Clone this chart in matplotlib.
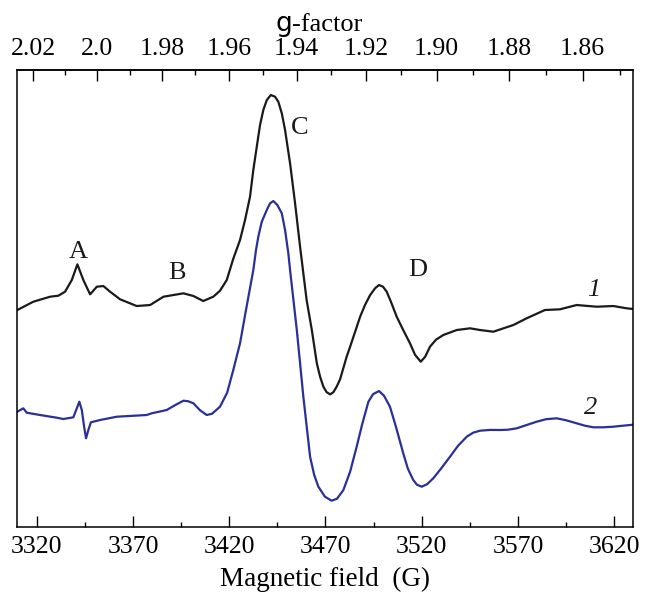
import numpy as np
import matplotlib
matplotlib.use("Agg")
import matplotlib.pyplot as plt
from matplotlib.ticker import FixedLocator

plt.rcParams["font.family"] = ["Liberation Serif", "DejaVu Serif"]

# --- EPR spectra (field in G, intensity in arb. units)
field_1 = [3309.9, 3318.2, 3326.9, 3331.2, 3334.7, 3338.2, 3341.1, 3344.2, 3347.7, 3351.2,
           3354.6, 3358.1, 3363.3, 3371.9, 3378.9, 3385.8, 3396.2, 3401.4, 3406.5, 3411.7,
           3415.2, 3418.7, 3422.1, 3425.6, 3428.2, 3430.8, 3432.5, 3434.3, 3436.0, 3437.7,
           3439.5, 3441.6, 3443.8, 3445.5, 3447.3, 3449.0, 3451.6, 3454.2, 3456.8, 3460.2,
           3462.9, 3465.5, 3467.2, 3468.9, 3470.6, 3472.4, 3474.1, 3475.8, 3477.6, 3481.0,
           3482.8, 3485.4, 3488.0, 3490.6, 3493.2, 3495.8, 3497.8, 3499.9, 3501.8, 3504.0,
           3507.0, 3510.3, 3513.9, 3516.5, 3519.5, 3521.8, 3524.3, 3527.4, 3531.2, 3538.2,
           3545.1, 3550.3, 3557.2, 3567.6, 3574.5, 3584.0, 3591.8, 3600.5, 3610.9, 3619.5,
           3626.5, 3629.9]
signal_1 = [216.7, 225, 230, 231, 235, 246.7, 262.4, 246.7, 232.4, 240,
            240.7, 235, 227.4, 220.7, 221.7, 230, 233.4, 230.7, 225.7, 230,
            236, 246.7, 268, 286.7, 306.7, 330, 356.7, 380, 401.7, 416.7,
            426.7, 431.7, 430, 425, 413.4, 396.7, 363.4, 323.4, 280, 226.7,
            196.7, 163.4, 150, 140, 134.5, 132.4, 134.5, 140, 147.5, 170,
            180, 195, 210, 222, 231.7, 238.5, 241.7, 240, 235, 225,
            210, 197, 183.4, 172, 165, 170, 180, 187, 191.7, 196.7,
            198.4, 196.7, 195, 201.7, 208.4, 216.7, 217.4, 221.7, 220, 220.7,
            218.4, 217.7]

field_2 = [3309.9, 3313.0, 3314.8, 3321.7, 3330.4, 3333.8, 3339.0, 3340.8, 3342.1, 3343.4,
           3344.6, 3345.6, 3346.8, 3348.1, 3352.9, 3361.6, 3377.1, 3379.7, 3387.5, 3391.8,
           3396.2, 3398.6, 3401.4, 3404.8, 3408.3, 3411.1, 3415.2, 3418.9, 3422.1, 3425.6,
           3428.7, 3432.5, 3433.9, 3435.1, 3436.9, 3439.5, 3441.2, 3442.9, 3445.0, 3447.3,
           3449.0, 3450.7, 3451.6, 3455.1, 3458.5, 3462.0, 3464.1, 3466.3, 3469.7, 3473.2,
           3476.0, 3479.3, 3482.8, 3486.2, 3489.0, 3492.3, 3494.7, 3497.8, 3500.4, 3503.5,
           3506.6, 3510.4, 3512.8, 3515.6, 3517.5, 3520.0, 3522.8, 3526.0, 3530.0, 3534.7,
           3538.9, 3543.4, 3546.7, 3550.3, 3555.5, 3560.7, 3564.8, 3569.4, 3574.2, 3579.7,
           3584.6, 3590.1, 3594.9, 3600.5, 3604.8, 3609.2, 3614.2, 3619.5, 3624.5, 3629.9]
signal_2 = [115, 118.4, 114, 111.7, 109, 107.7, 109.4, 118.4, 125, 116.7,
            100, 88.4, 96.7, 104.4, 106.7, 110, 111.7, 113.4, 116.7, 121.5,
            126, 125.5, 123.4, 116.5, 111.7, 113, 120, 134, 156.7, 183.4,
            216.7, 256.7, 276.7, 290, 305, 316.7, 323.4, 325.7, 321.7, 313.4,
            296.7, 273.4, 256.7, 196.7, 130, 70, 52, 40, 30, 26,
            28, 36.7, 55, 80, 102, 125, 132.5, 135.7, 131, 120,
            100, 73.4, 58, 46.7, 42, 40, 42.5, 48.4, 58, 70,
            81, 90, 94, 96, 96.8, 96.7, 97, 98.4, 101.5, 105,
            107.5, 108.4, 106.5, 103.4, 101, 99.4, 99.4, 100, 101, 102]

# peak labels: (text, field, intensity)
peak_names = ["A", "B", "C", "D"]
peak_field = [3341.5, 3392.7, 3456.8, 3517.7]
peak_level = [275, 253.4, 398.4, 256.7]

curve_names = ["1", "2"]
curve_field = [3609.2, 3607.5]
curve_level = [236.7, 118.4]

field_ticks = [3320, 3370, 3420, 3470, 3520, 3570, 3620]
field_minor = [3345, 3395, 3445, 3495, 3545, 3595]
g_ticks = [2.02, 2.00, 1.98, 1.96, 1.94, 1.92, 1.90, 1.88, 1.86]
g_labels = ["2.02", "2.0", "1.98", "1.96", "1.94", "1.92", "1.90", "1.88", "1.86"]
g_minor = [2.01, 1.99, 1.97, 1.95, 1.93, 1.91, 1.89, 1.87, 1.85]
g_const = 6702.7  # g * B (G)

fig = plt.figure(figsize=(6.54, 5.94), dpi=100)
ax = fig.add_axes([0.0265, 0.1133, 0.9409, 0.7688])

ax.plot(field_1, signal_1, color="#1a1a1a", lw=1.6, solid_joinstyle="round")
ax.plot(field_2, signal_2, color="#2b2f98", lw=1.6, solid_joinstyle="round")

for t, b, y in zip(peak_names, peak_field, peak_level):
    ax.text(b, y, t, fontsize=19, ha="center", va="center", color="#1a1a1a")
for t, b, y in zip(curve_names, curve_field, curve_level):
    ax.text(b, y, t, fontsize=19, ha="center", va="center", style="italic", color="#1a1a1a")

ax.set_xlim(3309.9, 3629.6)
ax.set_ylim(0, 456.7)
ax.set_yticks([])
ax.set_xticks(field_ticks)
ax.xaxis.set_minor_locator(FixedLocator(field_minor))
ax.tick_params(axis="x", which="major", direction="in", length=8, width=1, labelsize=18.5, pad=7)
ax.tick_params(axis="x", which="minor", direction="in", length=3.5, width=1)
for s in ax.spines.values():
    s.set_linewidth(1.1)
ax.set_xlabel("Magnetic field  (G)", fontsize=19.5, labelpad=6)


def to_g(b):
    b = np.asarray(b, dtype=float)
    with np.errstate(divide="ignore"):
        return g_const / b


secax = ax.secondary_xaxis("top", functions=(to_g, to_g))
secax.set_xticks(g_ticks, labels=g_labels)
secax.xaxis.set_minor_locator(FixedLocator(g_minor))
secax.tick_params(axis="x", which="major", direction="in", length=8, width=1, labelsize=18.5, pad=7)
secax.tick_params(axis="x", which="minor", direction="in", length=3.5, width=1)
secax.spines["top"].set_linewidth(1.1)

# "g-factor" title: sans g, serif rest
fig.text(292 / 654, 0.948, "g", fontsize=19, family="DejaVu Sans", ha="right", va="baseline")
fig.text(292 / 654, 0.948, "-factor", fontsize=19, ha="left", va="baseline")

fig.savefig("out.png", dpi=100)
